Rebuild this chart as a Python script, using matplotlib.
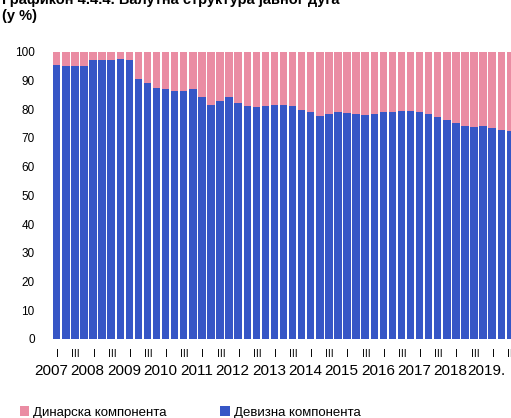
import matplotlib.pyplot as plt
import numpy as np

plt.rcParams['font.family'] = ['Liberation Sans', 'DejaVu Sans']

years = [str(y) for y in range(2007, 2019)] + ['2019.']
quarter_labels = ['I', 'III']

# foreign-currency share of public debt, quarterly 2007Q1 - 2019Q3 (%)
devizna = [95.5, 95.1, 95.2, 94.9, 97.2, 97.2, 97.2, 97.6, 97.0, 90.5,
           89.2, 87.3, 87.0, 86.4, 86.3, 87.0, 84.3, 81.6, 82.8, 84.1,
           82.2, 81.3, 80.9, 81.2, 81.5, 81.4, 81.1, 79.9, 79.0, 77.7,
           78.3, 78.9, 78.6, 78.3, 78.0, 78.3, 79.0, 79.2, 79.3, 79.5,
           78.9, 78.2, 77.3, 76.4, 75.2, 74.2, 73.9, 74.1, 73.5, 72.7,
           72.3]
dinarska = [100 - v for v in devizna]

blue = '#3656c6'
pink = '#ea8ca3'

fig = plt.figure(figsize=(5.11, 4.18), dpi=100)
ax = fig.add_axes([0.1004, 0.189, 0.916, 0.687])

x = np.arange(len(devizna))
ax.bar(x, devizna, width=0.82, color=blue, label='Девизна компонента')
ax.bar(x, dinarska, width=0.82, bottom=devizna, color=pink,
       label='Динарска компонента')

ax.set_xlim(-0.6, 51)
ax.set_ylim(0, 100)
ax.set_yticks(range(0, 101, 10))
ax.tick_params(axis='y', length=0, labelsize=8.5, pad=12)
ax.set_xticks([])
for s in ax.spines.values():
    s.set_visible(False)

# quarter marks and year labels under the bars
for k, yr in enumerate(years):
    for j, q in enumerate(quarter_labels):
        ax.text(4 * k + 2 * j + 0.1, -3.5, q, ha='center', va='top',
                fontsize=7.5, clip_on=False)
    ax.text(4 * k - 0.6, -8.8, yr, ha='center', va='top', fontsize=11,
            clip_on=False)

fig.text(0.004, 0.999, 'Графикон 4.4.4. Валутна структура јавног дуга',
         fontsize=10.5, fontweight='bold', va='center')
fig.text(0.004, 0.962, '(у %)', fontsize=10.5, fontweight='bold', va='center')

handles, labels = ax.get_legend_handles_labels()
fig.legend(handles[::-1], labels[::-1], loc='lower left',
           bbox_to_anchor=(0.015, -0.03), ncol=2, frameon=False,
           fontsize=9.5, handlelength=0.7, handleheight=0.7,
           handletextpad=0.3, columnspacing=4.1)

fig.savefig('out.png', dpi=100)
